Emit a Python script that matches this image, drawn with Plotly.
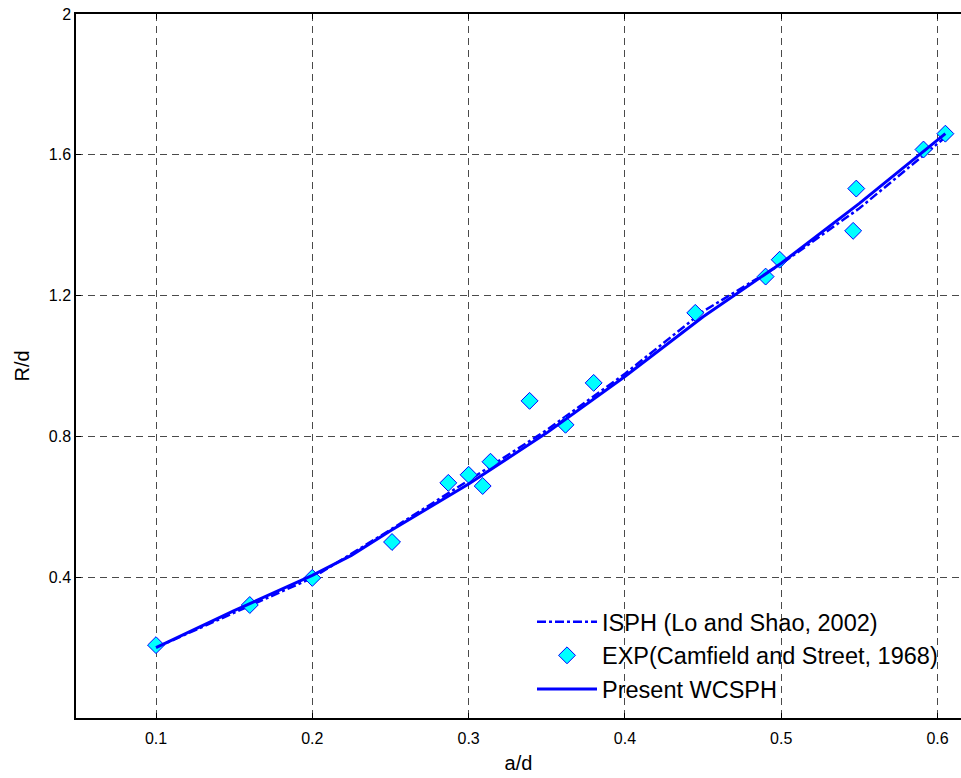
import plotly.graph_objects as go

# Experimental data (Camfield and Street, 1968)
exp_x = [0.100, 0.160, 0.200, 0.251, 0.287, 0.300, 0.309, 0.314, 0.339, 0.362,
         0.380, 0.445, 0.490, 0.499, 0.546, 0.548, 0.591, 0.605]
exp_y = [0.207, 0.321, 0.398, 0.500, 0.668, 0.691, 0.659, 0.728, 0.901, 0.833,
         0.952, 1.151, 1.254, 1.302, 1.384, 1.504, 1.615, 1.660]

# ISPH (Lo and Shao, 2002)
isph_x = [0.100, 0.150, 0.200, 0.250, 0.300, 0.350, 0.400, 0.450, 0.500, 0.550, 0.600, 0.605]
isph_y = [0.200, 0.300, 0.398, 0.535, 0.675, 0.818, 0.978, 1.155, 1.290, 1.448, 1.630, 1.650]

# Present WCSPH
wcsph_x = [0.100, 0.150, 0.200, 0.225, 0.250, 0.300, 0.350, 0.400, 0.450, 0.500, 0.550, 0.600, 0.605]
wcsph_y = [0.200, 0.305, 0.405, 0.462, 0.532, 0.665, 0.810, 0.970, 1.140, 1.292, 1.462, 1.643, 1.660]

x_ticks = [0.1, 0.2, 0.3, 0.4, 0.5, 0.6]
y_ticks = [0.4, 0.8, 1.2, 1.6, 2.0]
y_tick_text = ["0.4", "0.8", "1.2", "1.6", "2"]

FONT = "Liberation Sans, Arial, sans-serif"

fig = go.Figure()
fig.add_trace(go.Scatter(
    x=isph_x, y=isph_y, mode="lines", name="ISPH (Lo and Shao, 2002)",
    line=dict(color="#0000FF", width=2.5, dash="dashdot")))
fig.add_trace(go.Scatter(
    x=exp_x, y=exp_y, mode="markers", name="EXP(Camfield and Street, 1968)",
    marker=dict(symbol="diamond", size=13, color="#00FFFF",
                line=dict(color="#0000FF", width=1))))
fig.add_trace(go.Scatter(
    x=wcsph_x, y=wcsph_y, mode="lines", name="Present WCSPH",
    line=dict(color="#0000FF", width=3)))

fig.update_layout(
    width=961, height=778,
    margin=dict(l=76, r=0, t=14, b=60),
    paper_bgcolor="white", plot_bgcolor="white",
    font=dict(family=FONT, color="black", size=16),
    showlegend=True,
    legend=dict(x=(532 - 76) / 885, y=(718 - 600) / 704, xanchor="left", yanchor="top",
                bgcolor="rgba(0,0,0,0)", borderwidth=0,
                font=dict(family=FONT, size=23.5, color="black"),
                itemwidth=60, tracegroupgap=0),
)

grid_dash = "7px,5px"
fig.update_xaxes(
    range=[0.04882, 0.6150], tickvals=x_ticks, ticktext=[str(v) for v in x_ticks],
    showline=True, linecolor="black", linewidth=1.5, mirror="ticks",
    ticks="inside", ticklen=5, tickcolor="black", ticklabelstandoff=5,
    showgrid=True, gridcolor="#4a4a4a", gridwidth=1, griddash=grid_dash,
    zeroline=False,
    title=dict(text="a/d", font=dict(size=20, family=FONT), standoff=10),
    tickfont=dict(size=16, family=FONT),
)
fig.update_yaxes(
    range=[0, 2], tickvals=y_ticks, ticktext=y_tick_text,
    showline=True, linecolor="black", linewidth=1.5, mirror=False,
    ticks="inside", ticklen=5, tickcolor="black",
    showgrid=True, gridcolor="#4a4a4a", gridwidth=1, griddash=grid_dash,
    zeroline=False,
    title=dict(text="R/d", font=dict(size=20, family=FONT), standoff=14),
    tickfont=dict(size=16, family=FONT),
)

fig.write_html("out.html")
